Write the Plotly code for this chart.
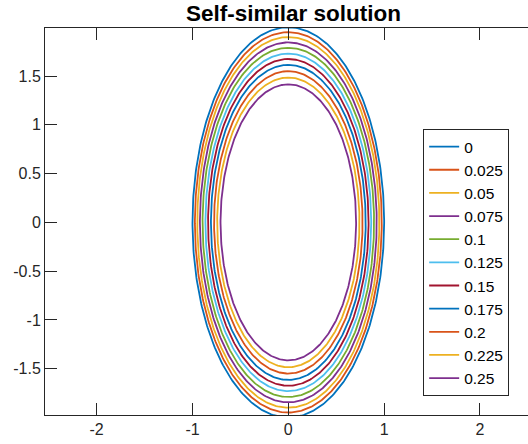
import numpy as np
import plotly.graph_objects as go

# Time labels of each curve and the semi-axes of the ellipse drawn at that time
times = ["0", "0.025", "0.05", "0.075", "0.1", "0.125", "0.15", "0.175", "0.2", "0.225", "0.25"]
half_heights = [2.0, 1.95, 1.90, 1.845, 1.79, 1.73, 1.675, 1.615, 1.55, 1.485, 1.415]
half_widths = [1.0, 0.975, 0.95, 0.9225, 0.895, 0.865, 0.8375, 0.8075, 0.775, 0.7425, 0.7075]

x_ticks = [-2, -1, 0, 1, 2]
y_ticks = [-1.5, -1, -0.5, 0, 0.5, 1, 1.5]

colors = ["#0072BD", "#D95319", "#EDB120", "#7E2F8E", "#77AC30",
          "#4DBEEE", "#A2142F"]

theta = np.linspace(0, 2 * np.pi, 400)

fig = go.Figure()
for i, (lab, b, a) in enumerate(zip(times, half_heights, half_widths)):
    fig.add_trace(go.Scatter(
        x=a * np.sin(theta), y=b * np.cos(theta),
        mode="lines", name=lab,
        line=dict(color=colors[i % len(colors)], width=1.8),
    ))

font = "Liberation Sans, Arial, Helvetica, sans-serif"
fig.update_layout(
    width=528, height=444,
    margin=dict(l=45, r=0, t=28, b=29),
    paper_bgcolor="white", plot_bgcolor="white",
    font=dict(family=font, size=16, color="#262626"),
    title=dict(text="<b>Self-similar solution</b>", x=0.556, xanchor="center",
               y=0.97, yanchor="middle", font=dict(size=22.5, color="black")),
    showlegend=True,
    legend=dict(x=0.961, xanchor="right", y=0.739, yanchor="top",
                bordercolor="#262626", borderwidth=1, bgcolor="white",
                font=dict(size=15.5, color="black"), tracegroupgap=0,
                itemwidth=30),
    xaxis=dict(range=[-2.539, 2.501], tickvals=x_ticks,
               ticktext=[str(v) for v in x_ticks],
               ticks="inside", ticklen=12, tickcolor="#262626",
               showline=True, linecolor="#262626", linewidth=1,
               mirror="ticks", showgrid=False, zeroline=False),
    yaxis=dict(range=[-1.975, 1.993], tickvals=y_ticks,
               ticktext=[("%g" % v) for v in y_ticks],
               ticks="inside", ticklen=12, tickcolor="#262626",
               showline=True, linecolor="#262626", linewidth=1,
               mirror=False, showgrid=False, zeroline=False),
    yaxis2=dict(range=[-1.975, 1.993], tickvals=y_ticks, overlaying="y",
                side="right", anchor="x", ticks="inside", ticklen=8,
                tickcolor="#262626", showticklabels=False, showline=False,
                showgrid=False, zeroline=False),
)

fig.write_html("out.html")
